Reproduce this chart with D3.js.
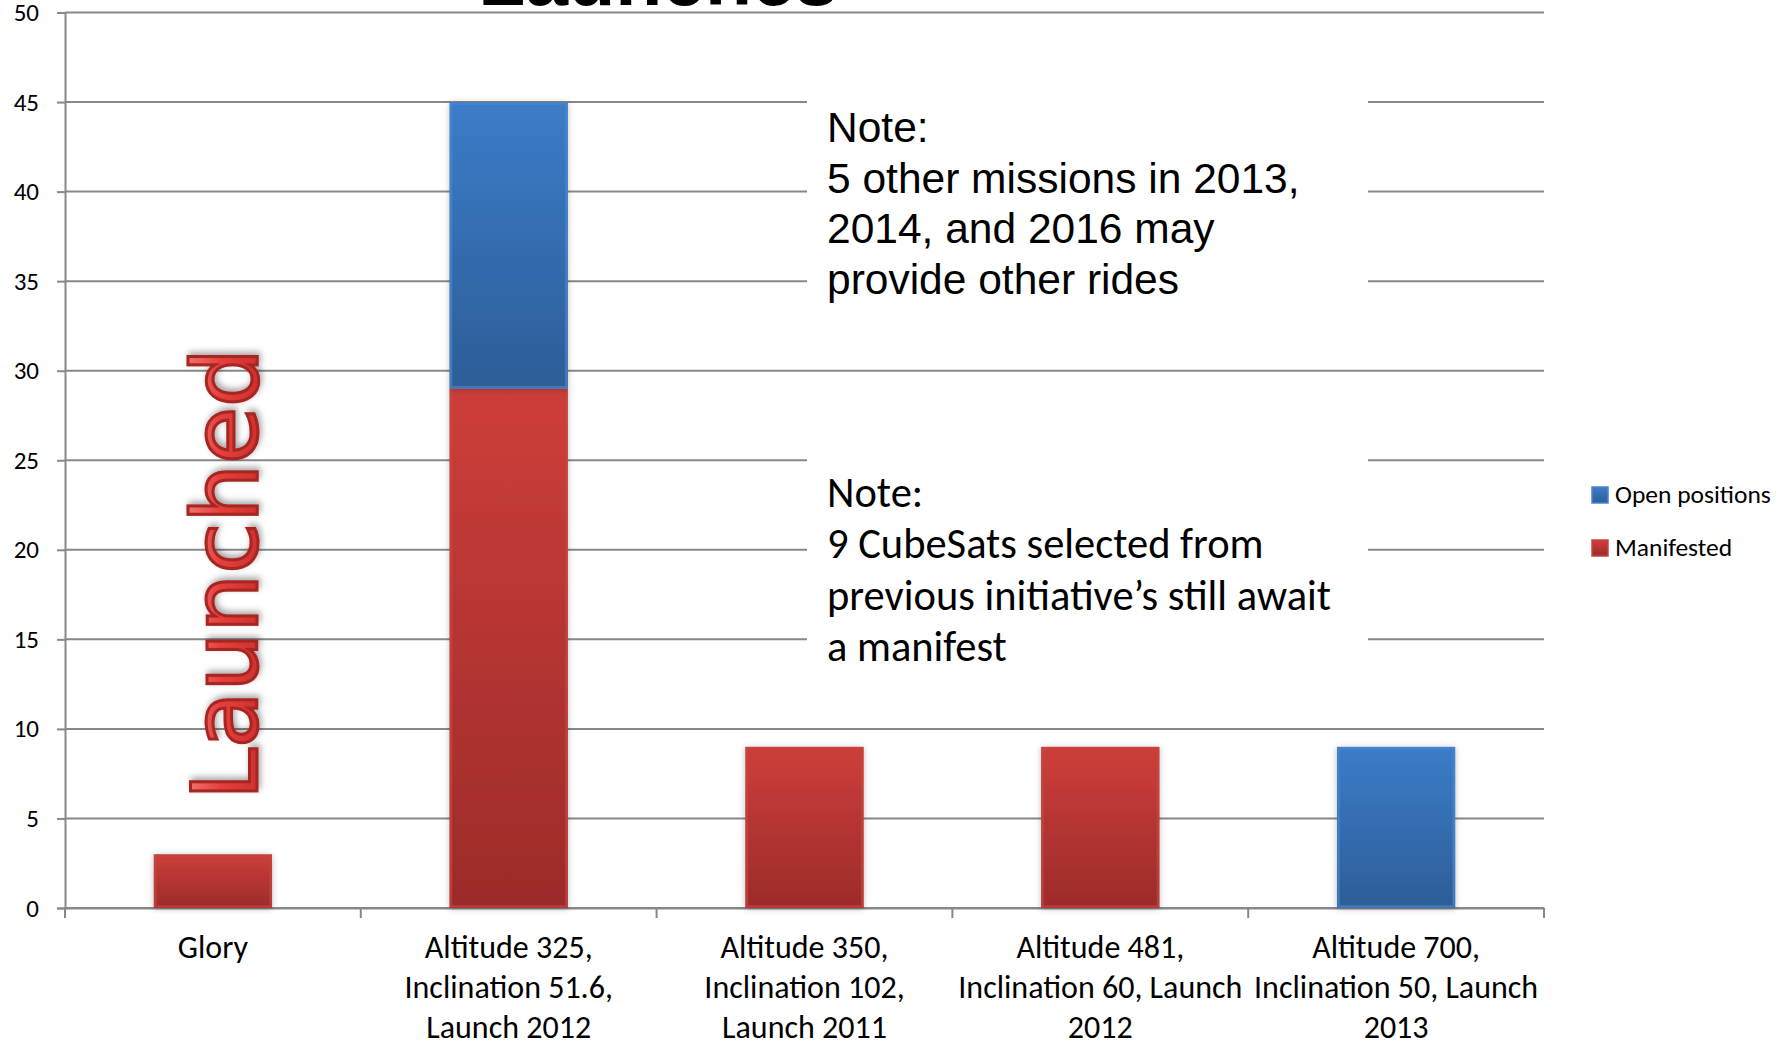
<!DOCTYPE html>
<html>
<head>
<meta charset="utf-8">
<script src="https://cdn.jsdelivr.net/npm/d3@7"></script>
<style>
  html, body { margin: 0; padding: 0; background: #fff; }
  svg { display: block; }
</style>
</head>
<body>
<svg id="chart" width="1787" height="1041"></svg>
<script>
// ---- Data ----
const categories = ["Glory", "Altitude 325", "Altitude 350", "Altitude 481", "Altitude 700"];
const categoryLabelLines = [
  ["Glory"],
  ["Altitude 325,", "Inclination 51.6,", "Launch 2012"],
  ["Altitude 350,", "Inclination 102,", "Launch 2011"],
  ["Altitude 481,", "Inclination 60, Launch", "2012"],
  ["Altitude 700,", "Inclination 50, Launch", "2013"]
];
const manifested = [3, 29, 9, 9, 0];
const openPositions = [0, 16, 0, 0, 9];
const seriesNames = ["Open positions", "Manifested"];
const yTicks = [0, 5, 10, 15, 20, 25, 30, 35, 40, 45, 50];
const titleText = "Launches";
const launchedText = "Launched";
const note1Lines = ["Note:", "5 other missions in 2013,", "2014, and 2016 may", "provide other rides"];
const note2Lines = ["Note:", "9 CubeSats selected from", "previous initiative\u2019s still await", "a manifest"];

// ---- Layout ----
const svg = d3.select("#chart");
const plotL = 65, plotR = 1544, plotT = 12.5, plotB = 908;
const calibri = "Carlito, Calibri, Lato, sans-serif";
const gridColor = "#888888";

const x = d3.scaleBand().domain(categories).range([plotL, plotR]).padding(0);
const y = d3.scaleLinear().domain([0, 50]).range([plotB, plotT]);
const barW = x.bandwidth() * 0.4;

const defs = svg.append("defs");
function grad(id, c1, c2) {
  const g = defs.append("linearGradient").attr("id", id)
    .attr("x1", 0).attr("y1", 0).attr("x2", 0).attr("y2", 1);
  g.append("stop").attr("offset", "0%").attr("stop-color", c1);
  g.append("stop").attr("offset", "100%").attr("stop-color", c2);
}
grad("gRed", "#cd3e3a", "#9c2b2a");
grad("gBlue", "#3b7cc9", "#2d5d97");

// launched text gradient (across letter height, in screen x after rotation)
const lgText = defs.append("linearGradient").attr("id", "gLaunch")
  .attr("x1", 0).attr("y1", 0).attr("x2", 0).attr("y2", 1);
lgText.append("stop").attr("offset", "0%").attr("stop-color", "#f58a86");
lgText.append("stop").attr("offset", "45%").attr("stop-color", "#e5403c");
lgText.append("stop").attr("offset", "100%").attr("stop-color", "#c42a27");

const shadow = defs.append("filter").attr("id", "shadow")
  .attr("x", "-20%").attr("y", "-10%").attr("width", "140%").attr("height", "120%");
shadow.append("feDropShadow").attr("dx", 0).attr("dy", 1).attr("stdDeviation", 3)
  .attr("flood-color", "#000").attr("flood-opacity", 0.25);

const tshadow = defs.append("filter").attr("id", "tshadow")
  .attr("x", "-20%").attr("y", "-10%").attr("width", "140%").attr("height", "120%");
tshadow.append("feDropShadow").attr("dx", 3).attr("dy", 2).attr("stdDeviation", 3)
  .attr("flood-color", "#000").attr("flood-opacity", 0.35);

// ---- Title (cropped at top) ----
svg.append("text")
  .attr("x", 658).attr("y", 5)
  .attr("text-anchor", "middle")
  .attr("font-family", "Liberation Sans, Arial, sans-serif")
  .attr("font-weight", "bold")
  .attr("font-size", 77)
  .attr("fill", "#000")
  .text(titleText);

// ---- Gridlines ----
svg.append("g").selectAll("line").data(yTicks).join("line")
  .attr("x1", plotL).attr("x2", plotR)
  .attr("y1", d => y(d)).attr("y2", d => y(d))
  .attr("stroke", gridColor).attr("stroke-width", 2);

// ---- Y axis ----
const yAxis = d3.axisLeft(y).tickValues(yTicks).tickSize(8).tickPadding(18);
const gy = svg.append("g").attr("transform", `translate(${plotL},0)`).call(yAxis);
gy.select(".domain").attr("stroke", gridColor).attr("stroke-width", 2);
gy.selectAll(".tick line").attr("stroke", gridColor).attr("stroke-width", 2);
gy.selectAll(".tick text").attr("font-family", calibri).attr("font-size", 25).attr("fill", "#000");

// ---- X axis ----
const xAxis = d3.axisBottom(x).tickSize(0).tickFormat("");
const gx = svg.append("g").attr("transform", `translate(0,${plotB})`).call(xAxis);
gx.select(".domain").attr("stroke", gridColor).attr("stroke-width", 2);
const boundaries = categories.map(c => x(c)).concat([x(categories[categories.length - 1]) + x.bandwidth()]);
svg.append("g").selectAll("line").data(boundaries).join("line")
  .attr("x1", d => d).attr("x2", d => d)
  .attr("y1", plotB).attr("y2", plotB + 10)
  .attr("stroke", gridColor).attr("stroke-width", 2);

// category labels
const lab = svg.append("g").selectAll("text").data(categories).join("text")
  .attr("text-anchor", "middle")
  .attr("font-family", calibri).attr("font-size", 32).attr("fill", "#000");
lab.each(function (d, i) {
  const t = d3.select(this);
  categoryLabelLines[i].forEach((line, k) => {
    t.append("tspan").attr("x", x(d) + x.bandwidth() / 2).attr("y", 958 + k * 40).text(line);
  });
});

// ---- Note boxes (white background over gridlines) ----
svg.append("rect").attr("x", 807).attr("y", 93).attr("width", 561).attr("height", 200).attr("fill", "#fff");
svg.append("rect").attr("x", 807).attr("y", 450).attr("width", 561).attr("height", 232).attr("fill", "#fff");

const n1 = svg.append("text").attr("font-family", "Liberation Sans, Arial, sans-serif")
  .attr("font-size", 42.5).attr("fill", "#000");
note1Lines.forEach((l, k) => n1.append("tspan").attr("x", 827).attr("y", 142 + k * 50.5).text(l));

const n2 = svg.append("text").attr("font-family", calibri)
  .attr("font-size", 42.5).attr("fill", "#000");
note2Lines.forEach((l, k) => n2.append("tspan").attr("x", 827).attr("y", 507 + k * 51.3).text(l));

// ---- Bars ----
const stackData = categories.map((c, i) => ({ c, m: manifested[i], o: openPositions[i] }));
const bars = svg.append("g");
function drawSeg(c, y0, y1, fillId, edge) {
  if (y1 <= y0) return;
  const bx = x(c) + x.bandwidth() * 0.3;
  bars.append("rect")
    .attr("x", bx).attr("y", y(y1))
    .attr("width", barW).attr("height", y(y0) - y(y1))
    .attr("fill", `url(#${fillId})`)
    .attr("filter", "url(#shadow)");
  bars.append("rect")
    .attr("x", bx + 1.5).attr("y", y(y1) + 1.5)
    .attr("width", barW - 3).attr("height", Math.max(0, y(y0) - y(y1) - 3))
    .attr("fill", "none").attr("stroke", edge).attr("stroke-width", 2.5).attr("stroke-opacity", 0.7);
}
stackData.forEach(d => {
  drawSeg(d.c, 0, d.m, "gRed", "#c44642");
  drawSeg(d.c, d.m, d.m + d.o, "gBlue", "#4a87cc");
});

// ---- "Launched" decorative text ----
svg.append("text")
  .attr("transform", `translate(257,800) rotate(-90)`)
  .attr("font-family", "DejaVu Sans, Verdana, sans-serif")
  .attr("font-size", 90)
  .attr("fill", "url(#gLaunch)")
  .attr("stroke", "#a82624").attr("stroke-width", 3)
  .attr("filter", "url(#tshadow)")
  .attr("textLength", 452)
  .attr("lengthAdjust", "spacingAndGlyphs")
  .text(launchedText);

// ---- Legend ----
const legendColors = ["gBlue", "gRed"];
const lg = svg.append("g");
seriesNames.forEach((s, i) => {
  const yy = 487 + i * 53;
  lg.append("rect").attr("x", 1592).attr("y", yy).attr("width", 16).attr("height", 16)
    .attr("fill", `url(#${legendColors[i]})`)
    .attr("stroke", i === 0 ? "#4a87cc" : "#c44642").attr("stroke-width", 1.5);
  lg.append("text").attr("x", 1615).attr("y", yy + 16)
    .attr("font-family", calibri).attr("font-size", 25.5).attr("fill", "#000").text(s);
});
</script>
</body>
</html>
